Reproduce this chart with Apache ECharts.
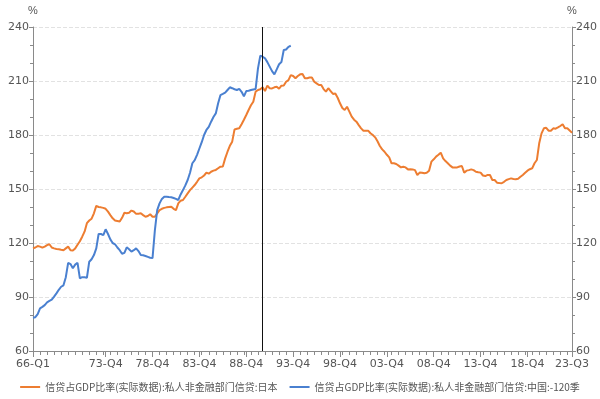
<!DOCTYPE html>
<html><head><meta charset="utf-8">
<script src="https://cdn.jsdelivr.net/npm/echarts@6/dist/echarts.min.js"></script>
<style>html,body{margin:0;padding:0;background:#fff}#c{width:600px;height:399px}</style>
</head><body><div id="c"></div>
<script>
// Quarters 66-Q1 .. 23-Q3
const categories = [];
for (let y = 1966; y <= 2023; y++) {
  for (let q = 1; q <= 4; q++) {
    if (y === 2023 && q > 3) break;
    categories.push(String(y % 100).padStart(2, '0') + '-Q' + q);
  }
}
const japanName = '信贷占GDP比率(实际数据):私人非金融部门信贷:日本';
const chinaName = '信贷占GDP比率(实际数据):私人非金融部门信贷:中国:-120季';
const japan = [
  117,117.5,118.3,118, 117.4,118,118.8,119.3, 117.5,117,116.7,116.5, 116.2,116,117,118,
  116,115.8,117,119, 121,123.5,126.3,131, 132.5,133.5,136.5,140.6, 140,139.8,139.5,139,
  137.4,135.5,133.7,132.5, 132.2,131.9,134,136.8, 136.5,136.8,138,137.5, 136.2,136.3,136.5,135.5,
  134.6,135,136,134.6, 134.6,136.5,138.3,139, 139.5,139.8,140,140.2, 139,138.3,142,143.5,
  143.9,145.7,147.6,149.4, 150.8,152.2,154,155.9, 156.5,157.5,159.1,158.5, 159.6,160.2,160.6,161.5,
  162.4,162.5,167,170.7, 174,176.3,183.1,183.5, 183.7,186,188.5,191.1, 193.9,196.5,198.5,204.1,
  205,205.4,206.5,204.4, 207.4,206,205.9,206.5, 206.8,205.7,207.4,207.5, 209.6,210.5,213.3,212.8,
  211.5,212.8,213.7,213.9, 211.5,211.5,211.9,212, 209.6,208.7,207.8,207.8, 205.5,204.1,206,204.4,
  202.8,203.1,200.7,197.6, 195,193.9,195.7,193, 190.2,188.5,187.4,185.5, 183.7,182.4,182.4,182.4,
  181,180,178.7,176.5, 173.9,172,170.7,169, 167.6,164.3,164.3,163.9, 163,162,162.4,162,
  160.9,161,160.9,160.5, 157.8,159.1,159,158.7, 159,160.2,165.2,166.5, 168,169,170.2,167,
  165.5,164.3,163,162, 162,162,162.5,162.8, 159.1,160.2,160.5,160.9, 160.5,159.6,159.3,159.1,
  157.5,157.2,157.8,157.8, 155,155,153.5,153.3, 153.2,154,155,155.5, 155.9,155.6,155.4,155.7,
  156.8,157.8,159,160.2, 161,161.5,164.3,166.1, 175.4,180.9,183.7,184, 182.4,182.4,183.7,183.5,
  184.2,185,186,183.7, 183.7,182.5,181.3
];
const china = [
  78.5,78.8,80.5,83.7, 84.5,85.5,87,87.8, 88.5,90.2,92,94, 95.7,96.5,101,109,
  108.3,106,108,109, 100.4,101,101,100.7, 109.6,111,113.3,117, 125,125,124.4,127.6,
  125,122,120,119.3, 117.5,116,114,114.5, 117.6,116.5,115.2,116, 117,115.5,113.3,113.2,
  112.8,112.3,111.8,111.6, 127,138.3,142,144.5, 145.7,145.7,145.5,145.4, 145,144.5,143.9,147,
  149.4,152,155,159, 164.3,166,169,172.5, 176,180,182.8,184.5, 187.4,190,192,197.6,
  202.2,202.8,203.5,205, 206.5,206,205.4,205, 205.6,204,201.5,204.4, 204.6,205,205.3,205.6,
  217,224.1,223.5,222.6, 220.5,218,215.5,213.7, 216.5,219.3,220.5,227.2, 227.5,229,229.6
];
const markerQuarter = '90-Q3';
const labelIdx = (i) => i === 0 || i === categories.length - 1 || (i >= 31 && (i - 31) % 20 === 0);

const txt = '#555';
const axisCol = '#8a8a8a';
const yAxisBase = {
  type: 'value', min: 60, max: 240, interval: 30,
  name: '%', nameGap: 11, nameTextStyle: { color: txt, fontSize: 11, align: 'center' },
  axisLine: { show: true, lineStyle: { color: axisCol } },
  axisTick: { show: true, length: 4, lineStyle: { color: axisCol } },
  minorTick: { show: true, splitNumber: 3, length: 3, lineStyle: { color: axisCol } },
  axisLabel: { color: txt, fontSize: 11, margin: 4, fontFamily: 'DejaVu Sans' },
  splitLine: { show: true, lineStyle: { color: '#e2e2e2', type: 'dashed' } }
};
const chart = echarts.init(document.getElementById('c'), null, { renderer: 'canvas' });
chart.setOption({
  animation: false,
  grid: { left: 33, right: 27, top: 27, bottom: 48, containLabel: false },
  legend: {
    bottom: 2, left: 'center', itemWidth: 20, itemHeight: 2, itemGap: 12,
    textStyle: { color: txt, fontSize: 10, fontFamily: 'Noto Sans CJK SC' },
    data: [{ name: japanName, icon: 'rect' }, { name: chinaName, icon: 'rect' }]
  },
  xAxis: [{
    type: 'category', data: categories, boundaryGap: false,
    axisLine: { lineStyle: { color: axisCol } },
    axisTick: { show: true, length: 6, interval: (i) => labelIdx(i), lineStyle: { color: axisCol } },
    axisLabel: { color: txt, fontSize: 11, margin: 8, interval: (i) => labelIdx(i), fontFamily: 'DejaVu Sans' },
    splitLine: { show: false }
  }, {
    type: 'category', data: categories, boundaryGap: false, position: 'bottom',
    axisLine: { show: false },
    axisTick: { show: true, length: 4, interval: 2, lineStyle: { color: axisCol } },
    axisLabel: { show: false }, splitLine: { show: false }
  }],
  yAxis: [
    Object.assign({}, yAxisBase, { position: 'left', axisLabel: Object.assign({}, yAxisBase.axisLabel) }),
    Object.assign({}, yAxisBase, { position: 'right', splitLine: { show: false } })
  ],
  series: [
    {
      name: japanName, type: 'line', data: japan, showSymbol: false, symbol: 'none',
      lineStyle: { color: '#ED7D31', width: 2 }, itemStyle: { color: '#ED7D31' },
      markLine: {
        silent: true, symbol: 'none', label: { show: false },
        lineStyle: { color: '#111', width: 1, type: 'solid' },
        data: [{ xAxis: markerQuarter }]
      }
    },
    {
      name: chinaName, type: 'line', data: china, showSymbol: false, symbol: 'none',
      lineStyle: { color: '#4A80D0', width: 2 }, itemStyle: { color: '#4A80D0' }
    }
  ]
});
</script></body></html>
